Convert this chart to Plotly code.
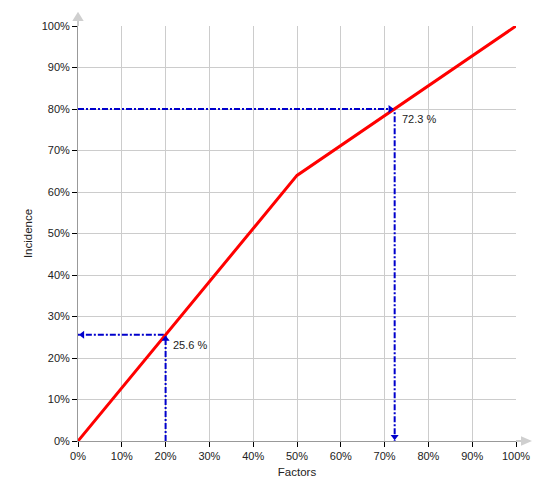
import plotly.graph_objects as go

factors = [0, 50, 100]
incidence = [0, 64, 100]
tick_vals = [0, 10, 20, 30, 40, 50, 60, 70, 80, 90, 100]
tick_text = ["0%", "10%", "20%", "30%", "40%", "50%", "60%", "70%", "80%", "90%", "100%"]
marker_a = {"x": 72.3, "y": 80, "label": "72.3 %"}
marker_b = {"x": 20, "y": 25.6, "label": "25.6 %"}

blue = "#0000cc"
dash = "6px,2px,2px,2px"
font = "Arial, Liberation Sans, sans-serif"

fig = go.Figure()

# guide lines
fig.add_trace(go.Scatter(x=[0, marker_a["x"], marker_a["x"]], y=[marker_a["y"], marker_a["y"], 0],
                         mode="lines", line=dict(color=blue, width=2, dash=dash), hoverinfo="skip"))
fig.add_trace(go.Scatter(x=[marker_b["x"], marker_b["x"], 0], y=[0, marker_b["y"], marker_b["y"]],
                         mode="lines", line=dict(color=blue, width=2, dash=dash), hoverinfo="skip"))

# main line
fig.add_trace(go.Scatter(x=factors, y=incidence, mode="lines",
                         line=dict(color="#ff0000", width=3)))

# arrowheads
fig.add_trace(go.Scatter(
    x=[marker_a["x"] - 1.0, marker_a["x"], marker_b["x"], 1.0],
    y=[marker_a["y"], 1.0, marker_b["y"] - 1.0, marker_b["y"]],
    mode="markers",
    marker=dict(symbol=["triangle-right", "triangle-down", "triangle-up", "triangle-left"],
                color=blue, size=7),
    cliponaxis=False, hoverinfo="skip"))

# axis end arrows (decoration, paper coordinates)
gray = "#cfcfcf"
fig.add_shape(type="line", xref="paper", yref="paper", x0=1, x1=1.0114, y0=0, y1=0,
              line=dict(color="#999999", width=1), layer="below")
fig.add_shape(type="line", xref="paper", yref="paper", x0=0, x1=0, y0=1, y1=1.012,
              line=dict(color="#999999", width=1), layer="below")
fig.add_shape(type="path", xref="paper", yref="paper",
              path="M 1.0114 -0.0115 L 1.0365 0 L 1.0114 0.0115 Z",
              fillcolor=gray, line=dict(width=0))
fig.add_shape(type="path", xref="paper", yref="paper",
              path="M -0.013 1.012 L 0 1.0345 L 0.013 1.012 Z",
              fillcolor=gray, line=dict(width=0))

for m in (marker_a, marker_b):
    fig.add_annotation(x=m["x"], y=m["y"], text=m["label"], showarrow=False,
                       xanchor="left", yanchor="middle", xshift=5, yshift=-10,
                       font=dict(family=font, size=11, color="#222"))

axis_common = dict(range=[0, 100], tickmode="array", tickvals=tick_vals, ticktext=tick_text,
                   showgrid=True, gridcolor="#cccccc", gridwidth=1, zeroline=False, showline=True,
                   linecolor="#999999", linewidth=1, ticks="outside", ticklen=5,
                   tickcolor="#000", tickfont=dict(family=font, size=11, color="#222"))

fig.update_layout(
    width=550, height=500,
    margin=dict(l=70, r=42, t=15, b=67),
    plot_bgcolor="white", paper_bgcolor="white",
    showlegend=False,
    xaxis=dict(**axis_common, title=dict(text="Factors", font=dict(family=font, size=11.5, color="#222"), standoff=6)),
    yaxis=dict(**axis_common, title=dict(text="Incidence", font=dict(family=font, size=11.5, color="#222"), standoff=6)),
)

fig.write_html("out.html")
